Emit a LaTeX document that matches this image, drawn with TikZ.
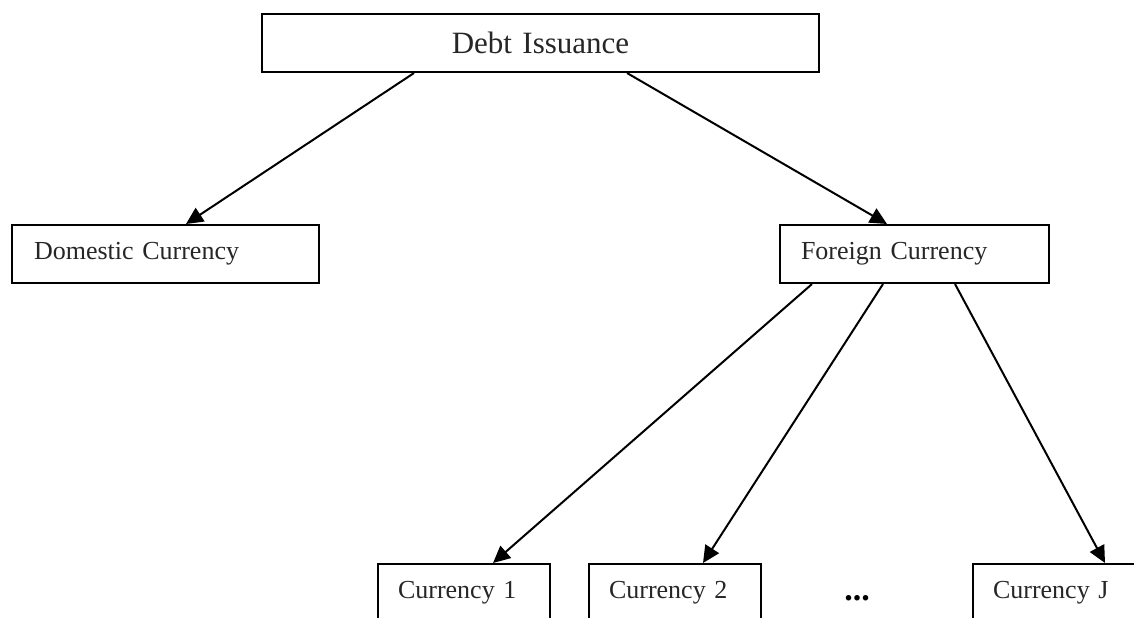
\documentclass[tikz,border=0pt]{standalone}
\usepackage{fontspec}
\setmainfont{Liberation Serif}
\usetikzlibrary{arrows.meta}
\begin{document}
\begin{tikzpicture}[x=0.5pt,y=-0.5pt,
  box/.style={draw, line width=1pt, anchor=north west, inner ysep=0pt,
    minimum height=29pt, align=left, font=\fontsize{13}{15}\selectfont, text=black!85},
  arr/.style={line width=1pt, -{Triangle[length=8.5pt,width=8pt]}}]
\useasboundingbox (0,0) rectangle (1134,617);
\clip (0,0) rectangle (1134,617);
\node[box, align=center, inner xsep=0pt, text width=278.5pt, font=\fontsize{15.5}{18}\selectfont] (debt) at (261,13) {Debt Issuance};
\node[box, inner xsep=11pt, text width=131.5pt] (dom) at (11,224) {Domestic Currency};
\node[box, inner xsep=10.5pt, text width=113.5pt] (for) at (779,224) {Foreign Currency};
\node[box, inner xsep=10pt, text width=66pt] (c1) at (377,563) {Currency 1};
\node[box, inner xsep=10pt, text width=66pt] (c2) at (588,563) {Currency 2};
\node[box, inner xsep=10pt, text width=66pt] (cj) at (972,563) {Currency J};
\node[font=\fontsize{17}{20}\selectfont\bfseries] (dots) at (857,598) {...};
\draw[arr] ([xshift=76.5pt]debt.south west) -- ([xshift=87.5pt]dom.north west);
\draw[arr] ([xshift=183pt]debt.south west) -- ([xshift=54pt]for.north west);
\draw[arr] ([xshift=16.5pt]for.south west) -- ([xshift=58pt]c1.north west);
\draw[arr] ([xshift=52pt]for.south west) -- ([xshift=57.5pt]c2.north west);
\draw[arr] ([xshift=88pt]for.south west) -- ([xshift=66.5pt]cj.north west);
\end{tikzpicture}
\end{document}
